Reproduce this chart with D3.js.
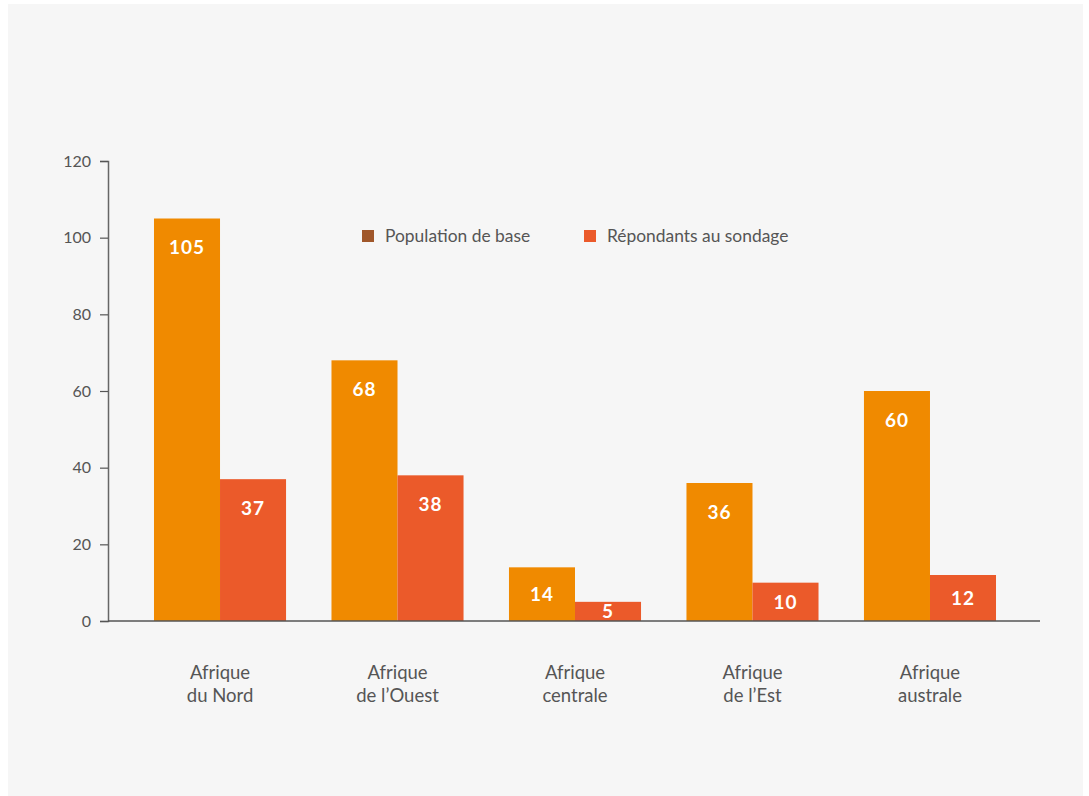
<!DOCTYPE html>
<html>
<head>
<meta charset="utf-8">
<script src="https://cdnjs.cloudflare.com/ajax/libs/d3/7.8.5/d3.min.js"></script>
<style>
  body { margin: 0; background: #fff; }
  svg text { font-family: Lato, "Open Sans", sans-serif; }
</style>
</head>
<body>
<div id="chart"></div>
<script>
// données
const regions = [["Afrique", "du Nord"], ["Afrique", "de l’Ouest"], ["Afrique", "centrale"], ["Afrique", "de l’Est"], ["Afrique", "australe"]];
const population = [105, 68, 14, 36, 60];
const repondants = [37, 38, 5, 10, 12];
const seriesNames = ["Population de base", "Répondants au sondage"];
const yTicks = [0, 20, 40, 60, 80, 100, 120];

const width = 1089, height = 796;
const barColors = ["#f08a00", "#eb5a2a"];
const legendColors = ["#a0572a", "#eb5a2a"];

const svg = d3.select("#chart").append("svg")
    .attr("width", width)
    .attr("height", height);

// fond
svg.append("rect")
    .attr("x", 8).attr("y", 4)
    .attr("width", 1075).attr("height", 792)
    .attr("fill", "#f6f6f6");

const x0 = d3.scaleBand()
    .domain(d3.range(regions.length))
    .range([109, 1041])
    .paddingInner(0.256)
    .paddingOuter(0.2535);

const x1 = d3.scaleBand()
    .domain([0, 1])
    .range([0, x0.bandwidth()]);

const y = d3.scaleLinear()
    .domain([0, 120])
    .range([621, 161]);

// axe y
const yAxis = svg.append("g")
    .attr("transform", "translate(108,0)")
    .call(d3.axisLeft(y).tickValues(yTicks).tickSize(8).tickPadding(9));
yAxis.select(".domain").attr("stroke", "#666").attr("stroke-width", 1.5);
yAxis.selectAll(".tick line").attr("stroke", "#555").attr("stroke-width", 1.2);
yAxis.selectAll(".tick text")
    .attr("fill", "#555")
    .style("font-size", "16px");

const rows = regions.map((r, i) => [population[i], repondants[i]]);

const groups = svg.selectAll(".grp")
    .data(rows)
    .join("g")
    .attr("class", "grp")
    .attr("transform", (d, i) => `translate(${x0(i)},0)`);

groups.selectAll("rect")
    .data(d => d)
    .join("rect")
    .attr("x", (d, j) => x1(j))
    .attr("y", d => y(d))
    .attr("width", x1.bandwidth())
    .attr("height", d => y(0) - y(d))
    .attr("fill", (d, j) => barColors[j]);

groups.selectAll(".val")
    .data(d => d)
    .join("text")
    .attr("class", "val")
    .attr("x", (d, j) => x1(j) + x1.bandwidth() / 2)
    .attr("y", d => Math.min(y(d) + 29, (y(d) + y(0)) / 2))
    .attr("dy", "0.36em")
    .attr("text-anchor", "middle")
    .attr("fill", "#fff")
    .style("font-size", "19px")
    .style("font-weight", "bold")
    .style("letter-spacing", "1px")
    .text(d => d);

// axe x
svg.append("line")
    .attr("x1", 108).attr("x2", 1040)
    .attr("y1", y(0)).attr("y2", y(0))
    .attr("stroke", "#555").attr("stroke-width", 1.5);

// libellés des régions
const labels = svg.selectAll(".cat")
    .data(regions)
    .join("text")
    .attr("class", "cat")
    .attr("x", (d, i) => x0(i) + x0.bandwidth() / 2)
    .attr("y", 679)
    .attr("text-anchor", "middle")
    .attr("fill", "#555")
    .style("font-size", "18.5px");
labels.selectAll("tspan")
    .data(d => d)
    .join("tspan")
    .attr("x", function () { return this.parentNode.getAttribute("x"); })
    .attr("dy", (d, k) => k === 0 ? 0 : 23)
    .text(d => d);

// légende
const legendX = [362, 584];
const legend = svg.selectAll(".leg")
    .data(seriesNames)
    .join("g")
    .attr("class", "leg")
    .attr("transform", (d, i) => `translate(${legendX[i]},230)`);
legend.append("rect")
    .attr("width", 12).attr("height", 12)
    .attr("fill", (d, i) => legendColors[i]);
legend.append("text")
    .attr("x", 23).attr("y", 6)
    .attr("dy", "0.36em")
    .attr("fill", "#555")
    .style("font-size", "17.4px")
    .text(d => d);
</script>
</body>
</html>
